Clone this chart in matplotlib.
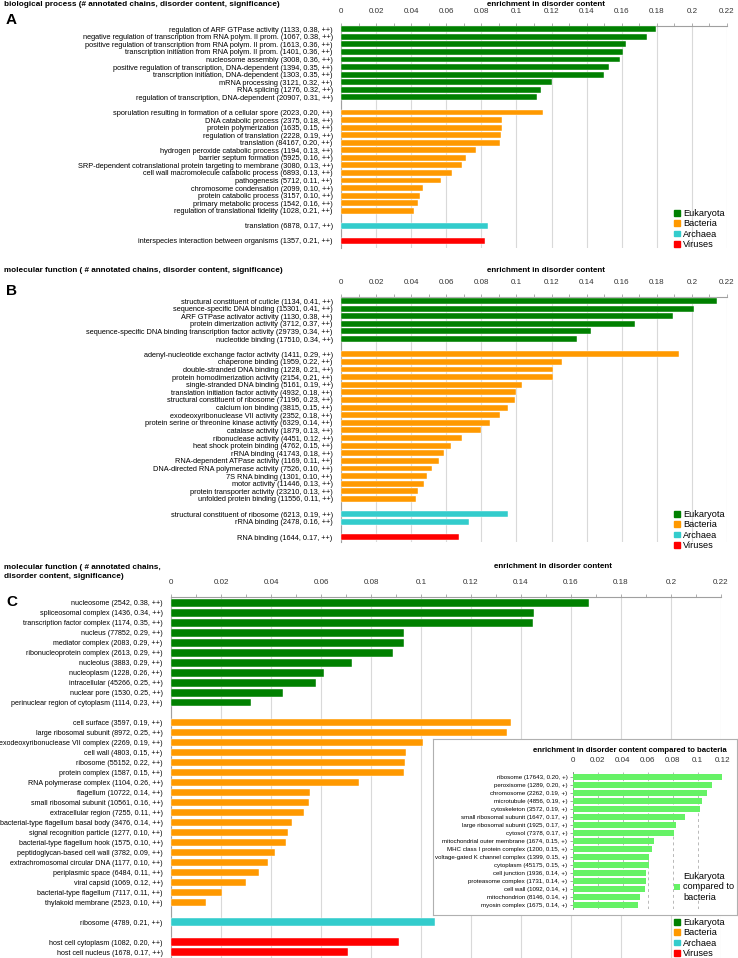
import numpy as np
import matplotlib
matplotlib.use("Agg")
import matplotlib.pyplot as plt
from matplotlib.patches import Patch

# ---- data ----
# panel A: biological process
euk_a_labels = ["regulation of ARF GTPase activity (1133, 0.38, ++)",
                "negative regulation of transcription from RNA polym. II prom. (1067, 0.38, ++)",
                "positive regulation of transcription from RNA polym. II prom. (1613, 0.36, ++)",
                "transcription initiation from RNA polym. II prom. (1401, 0.36, ++)",
                "nucleosome assembly (3008, 0.36, ++)",
                "positive regulation of transcription, DNA-dependent (1394, 0.35, ++)",
                "transcription initiation, DNA-dependent (1303, 0.35, ++)",
                "mRNA processing (3121, 0.32, ++)",
                "RNA splicing (1276, 0.32, ++)",
                "regulation of transcription, DNA-dependent (20907, 0.31, ++)"]
euk_a_vals = [0.1796, 0.1746, 0.1624, 0.161, 0.159, 0.1525, 0.150, 0.120, 0.114, 0.1116]
bac_a_labels = ["sporulation resulting in formation of a cellular spore (2023, 0.20, ++)",
                "DNA catabolic process (2375, 0.18, ++)",
                "protein polymerization (1635, 0.15, ++)",
                "regulation of translation (2228, 0.19, ++)",
                "translation (84167, 0.20, ++)",
                "hydrogen peroxide catabolic process (1194, 0.13, ++)",
                "barrier septum formation (5925, 0.16, ++)",
                "SRP-dependent cotranslational protein targeting to membrane (3080, 0.13, ++)",
                "cell wall macromolecule catabolic process (6893, 0.13, ++)",
                "pathogenesis (5712, 0.11, ++)",
                "chromosome condensation (2099, 0.10, ++)",
                "protein catabolic process (3157, 0.10, ++)",
                "primary metabolic process (1542, 0.16, ++)",
                "regulation of translational fidelity (1028, 0.21, ++)"]
bac_a_vals = [0.115, 0.0917, 0.0915, 0.091, 0.0905, 0.077, 0.071, 0.069, 0.063, 0.057,
              0.047, 0.045, 0.044, 0.0415]
arc_a_labels = ["translation (6878, 0.17, ++)"]
arc_a_vals = [0.084]
vir_a_labels = ["interspecies interaction between organisms (1357, 0.21, ++)"]
vir_a_vals = [0.082]

# panel B: molecular function
euk_b_labels = ["structural constituent of cuticle (1134, 0.41, ++)",
                "sequence-specific DNA binding (15301, 0.41, ++)",
                "ARF GTPase activator activity (1130, 0.38, ++)",
                "protein dimerization activity (3712, 0.37, ++)",
                "sequence-specific DNA binding transcription factor activity (29739, 0.34, ++)",
                "nucleotide binding (17510, 0.34, ++)"]
euk_b_vals = [0.2141, 0.201, 0.189, 0.1675, 0.1425, 0.1345]
bac_b_labels = ["adenyl-nucleotide exchange factor activity (1411, 0.29, ++)",
                "chaperone binding (1959, 0.22, ++)",
                "double-stranded DNA binding (1228, 0.21, ++)",
                "protein homodimerization activity (2154, 0.21, ++)",
                "single-stranded DNA binding (5161, 0.19, ++)",
                "translation initiation factor activity (4932, 0.18, ++)",
                "structural constituent of ribosome (71196, 0.23, ++)",
                "calcium ion binding (3815, 0.15, ++)",
                "exodeoxyribonuclease VII activity (2352, 0.18, ++)",
                "protein serine or threonine kinase activity (6329, 0.14, ++)",
                "catalase activity (1879, 0.13, ++)",
                "ribonuclease activity (4451, 0.12, ++)",
                "heat shock protein binding (4762, 0.15, ++)",
                "rRNA binding (41743, 0.18, ++)",
                "RNA-dependent ATPase activity (1169, 0.11, ++)",
                "DNA-directed RNA polymerase activity (7526, 0.10, ++)",
                "7S RNA binding (1301, 0.10, ++)",
                "motor activity (11446, 0.13, ++)",
                "protein transporter activity (23210, 0.13, ++)",
                "unfolded protein binding (11556, 0.11, ++)"]
bac_b_vals = [0.1929, 0.126, 0.1207, 0.1207, 0.1029, 0.0997, 0.0989, 0.0951, 0.0908, 0.0847,
              0.0797, 0.0692, 0.0627, 0.0589, 0.0561, 0.0521, 0.0493, 0.0472, 0.0438, 0.043]
arc_b_labels = ["structural constituent of ribosome (6213, 0.19, ++)",
                "rRNA binding (2478, 0.16, ++)"]
arc_b_vals = [0.0951, 0.0728]
vir_b_labels = ["RNA binding (1644, 0.17, ++)"]
vir_b_vals = [0.0675]

# panel C: cellular component
euk_c_labels = ["nucleosome (2542, 0.38, ++)", "spliceosomal complex (1436, 0.34, ++)",
                "transcription factor complex (1174, 0.35, ++)", "nucleus (77852, 0.29, ++)",
                "mediator complex (2083, 0.29, ++)", "ribonucleoprotein complex (2613, 0.29, ++)",
                "nucleolus (3883, 0.29, ++)", "nucleoplasm (1228, 0.26, ++)",
                "intracellular (45266, 0.25, ++)", "nuclear pore (1530, 0.25, ++)",
                "perinuclear region of cytoplasm (1114, 0.23, ++)"]
euk_c_vals = [0.1672, 0.1453, 0.1447, 0.0933, 0.0933, 0.0886, 0.0725, 0.0612, 0.058, 0.0447, 0.0319]
bac_c_labels = ["cell surface (3597, 0.19, ++)", "large ribosomal subunit (8972, 0.25, ++)",
                "exodeoxyribonuclease VII complex (2269, 0.19, ++)", "cell wall (4803, 0.15, ++)",
                "ribosome (55152, 0.22, ++)", "protein complex (1587, 0.15, ++)",
                "RNA polymerase complex (1104, 0.26, ++)", "flagellum (10722, 0.14, ++)",
                "small ribosomal subunit (10561, 0.16, ++)", "extracellular region (7255, 0.11, ++)",
                "bacterial-type flagellum basal body (3476, 0.14, ++)",
                "signal recognition particle (1277, 0.10, ++)",
                "bacterial-type flagellum hook (1575, 0.10, ++)",
                "peptidoglycan-based cell wall (3782, 0.09, ++)",
                "extrachromosomal circular DNA (1177, 0.10, ++)",
                "periplasmic space (6484, 0.11, ++)", "viral capsid (1069, 0.12, ++)",
                "bacterial-type flagellum (7117, 0.11, ++)", "thylakoid membrane (2523, 0.10, ++)"]
bac_c_vals = [0.136, 0.1344, 0.1007, 0.094, 0.0936, 0.093, 0.0752, 0.0557, 0.0552, 0.0531,
              0.0483, 0.0468, 0.0459, 0.0416, 0.0387, 0.0351, 0.0299, 0.0203, 0.0139]
arc_c_labels = ["ribosome (4789, 0.21, ++)"]
arc_c_vals = [0.1056]
vir_c_labels = ["host cell cytoplasm (1082, 0.20, ++)", "host cell nucleus (1678, 0.17, ++)"]
vir_c_vals = [0.091, 0.0709]

# inset: eukaryota compared to bacteria
ins_labels = ["ribosome (17643, 0.20, +)", "peroxisome (1289, 0.20, +)",
              "chromosome (2262, 0.19, +)", "microtubule (4856, 0.19, +)",
              "cytoskeleton (3572, 0.19, +)", "small ribosomal subunit (1647, 0.17, +)",
              "large ribosomal subunit (1925, 0.17, +)", "cytosol (7378, 0.17, +)",
              "mitochondrial outer membrane (1674, 0.15, +)",
              "MHC class I protein complex (1200, 0.15, +)",
              "voltage-gated K channel complex (1399, 0.15, +)", "cytoplasm (45175, 0.15, +)",
              "cell junction (1936, 0.14, +)", "proteasome complex (1731, 0.14, +)",
              "cell wall (1092, 0.14, +)", "mitochondrion (8146, 0.14, +)",
              "myosin complex (1675, 0.14, +)"]
ins_vals = [0.1197, 0.1114, 0.1072, 0.1034, 0.1017, 0.0901, 0.0826, 0.0811, 0.0651, 0.063,
            0.0608, 0.0608, 0.0587, 0.0582, 0.0576, 0.0536, 0.0525]

kingdoms = ["Eukaryota", "Bacteria", "Archaea", "Viruses"]
colors = ["#008000", "#FF9900", "#33CCCC", "#FF0000"]
ins_color = "#66F266"

NARROW = ["Liberation Sans Narrow", "Liberation Sans", "DejaVu Sans"]
SANS = ["Liberation Sans", "DejaVu Sans"]

W, H = 738, 958
fig = plt.figure(figsize=(W / 100, H / 100), dpi=100)


def px_axes(left, top, right, bottom, **kw):
    return fig.add_axes([left / W, 1 - bottom / H, (right - left) / W, (bottom - top) / H], **kw)


def ftext(x, y, s, **kw):
    kw.setdefault("va", "center")
    return fig.text(x / W, 1 - y / H, s, **kw)


def fmt(v):
    return f"{round(v, 2):g}"


def panel(ax, groups, row0, row_h, top, bottom, fs, pad):
    ypos, labels = [], []
    y = 0
    for labs, vals, col in groups:
        ys = np.arange(y, y + len(vals))
        ax.barh(ys, vals, height=0.78, color=col, edgecolor="white", linewidth=0.3, zorder=3)
        ypos += list(ys)
        labels += labs
        y += len(vals) + 1
    ax.set_ylim((bottom - row0) / row_h, (top - row0) / row_h)
    ax.set_xlim(0, 0.22)
    ticks = np.arange(0, 0.2201, 0.02)
    ax.xaxis.tick_top()
    ax.set_xticks(ticks)
    ax.set_xticklabels([fmt(t) for t in ticks], fontsize=5.8, family=NARROW, color="#333333")
    ax.set_xticks(np.arange(0.01, 0.22, 0.02), minor=True)
    ax.tick_params(axis="x", which="both", length=2.5, color="#a0a0a0", pad=5.5, width=0.6)
    ax.set_yticks(ypos)
    ax.set_yticklabels(labels, fontsize=fs, family=NARROW)
    ax.tick_params(axis="y", length=0, pad=pad)
    ax.grid(axis="x", color="#d9d9d9", linewidth=0.8, zorder=0)
    ax.set_axisbelow(True)
    for s in ["right", "bottom"]:
        ax.spines[s].set_visible(False)
    for s in ["top", "left"]:
        ax.spines[s].set_color("#a0a0a0")
        ax.spines[s].set_linewidth(0.8)


def kingdom_legend(x, y):
    handles = [Patch(color=c) for c in colors]
    fig.legend(handles, kingdoms, loc="upper left", bbox_to_anchor=(x / W, 1 - y / H),
               frameon=False, prop={"family": SANS, "size": 6.6},
               handlelength=0.6, handleheight=0.6, handletextpad=0.4, labelspacing=0.15,
               borderpad=0, borderaxespad=0)


# ---- panel A ----
axA = px_axes(341, 26, 727, 248)
panel(axA, [(euk_a_labels, euk_a_vals, colors[0]), (bac_a_labels, bac_a_vals, colors[1]),
            (arc_a_labels, arc_a_vals, colors[2]), (vir_a_labels, vir_a_vals, colors[3])],
      29.3, 7.56, 26, 248, 5.3, 6)
ftext(4, 5, "biological process (# annotated chains, disorder content, significance)",
      fontsize=5.9, fontweight="bold", family=SANS)
ftext(546, 5, "enrichment in disorder content", fontsize=5.8, fontweight="bold",
      family=SANS, ha="center")
ftext(6, 20, "A", fontsize=11, fontweight="bold", family=SANS)
kingdom_legend(674, 209)

# ---- panel B ----
axB = px_axes(341, 297, 727, 542)
panel(axB, [(euk_b_labels, euk_b_vals, colors[0]), (bac_b_labels, bac_b_vals, colors[1]),
            (arc_b_labels, arc_b_vals, colors[2]), (vir_b_labels, vir_b_vals, colors[3])],
      301, 7.613, 297, 542, 5.3, 6)
ftext(4, 270, "molecular function ( # annotated chains, disorder content, significance)",
      fontsize=5.9, fontweight="bold", family=SANS)
ftext(546, 270, "enrichment in disorder content", fontsize=5.8, fontweight="bold",
      family=SANS, ha="center")
ftext(6, 291, "B", fontsize=11, fontweight="bold", family=SANS)
kingdom_legend(674, 510)

# ---- panel C ----
axC = px_axes(171, 597, 721, 958)
panel(axC, [(euk_c_labels, euk_c_vals, colors[0]), (bac_c_labels, bac_c_vals, colors[1]),
            (arc_c_labels, arc_c_vals, colors[2]), (vir_c_labels, vir_c_vals, colors[3])],
      602.7, 9.99, 597, 958, 5.1, 6)
ftext(4, 572, "molecular function ( # annotated chains,\ndisorder content, significance)",
      fontsize=5.9, fontweight="bold", family=SANS, linespacing=1.3)
ftext(553, 567, "enrichment in disorder content", fontsize=5.8, fontweight="bold",
      family=SANS, ha="center")
ftext(6, 602, "C", fontsize=11, fontweight="bold", family=SANS)
kingdom_legend(674, 918)

# ---- inset ----
box = px_axes(432.7, 739.3, 736.7, 915, zorder=5)
box.set_xticks([])
box.set_yticks([])
for s in box.spines.values():
    s.set_color("#b0b0b0")
    s.set_linewidth(0.8)

axI = px_axes(573, 772, 722.7, 909, zorder=6)
axI.patch.set_alpha(0)
iy = np.arange(len(ins_vals))
axI.barh(iy, ins_vals, height=0.75, color=ins_color, zorder=3, label="Eukaryota\ncompared to\nbacteria")
axI.set_xlim(0, 0.12)
axI.set_ylim((909 - 776.7) / 8.0, (772 - 776.7) / 8.0)
axI.xaxis.tick_top()
iticks = np.arange(0, 0.1201, 0.02)
axI.set_xticks(iticks)
axI.set_xticklabels([fmt(t) for t in iticks], fontsize=5.8, family=NARROW, color="#333333")
axI.tick_params(axis="x", length=0, pad=6)
axI.set_yticks(iy)
axI.set_yticklabels(ins_labels, fontsize=4.4, family=NARROW)
axI.tick_params(axis="y", length=2, color="#808080", pad=2, width=0.5)
axI.grid(axis="x", color="#b8b8b8", linestyle=(0, (3, 3)), linewidth=0.7, zorder=0)
axI.set_axisbelow(True)
for s in ["right", "bottom", "top"]:
    axI.spines[s].set_visible(False)
axI.spines["left"].set_color("#808080")
axI.spines["left"].set_linewidth(0.6)
ftext(630, 751, "enrichment in disorder content compared to bacteria", fontsize=5.6,
      fontweight="bold", family=SANS, ha="center", zorder=7)
leg = axI.legend(loc="upper left", bbox_to_anchor=((674 - 573) / 149.7, (909 - 872) / 137),
                 frameon=False, prop={"family": SANS, "size": 6.6}, handlelength=0.6,
                 handleheight=0.6, handletextpad=0.4, labelspacing=0.15,
                 borderpad=0, borderaxespad=0)

fig.savefig("out.png", dpi=100)
